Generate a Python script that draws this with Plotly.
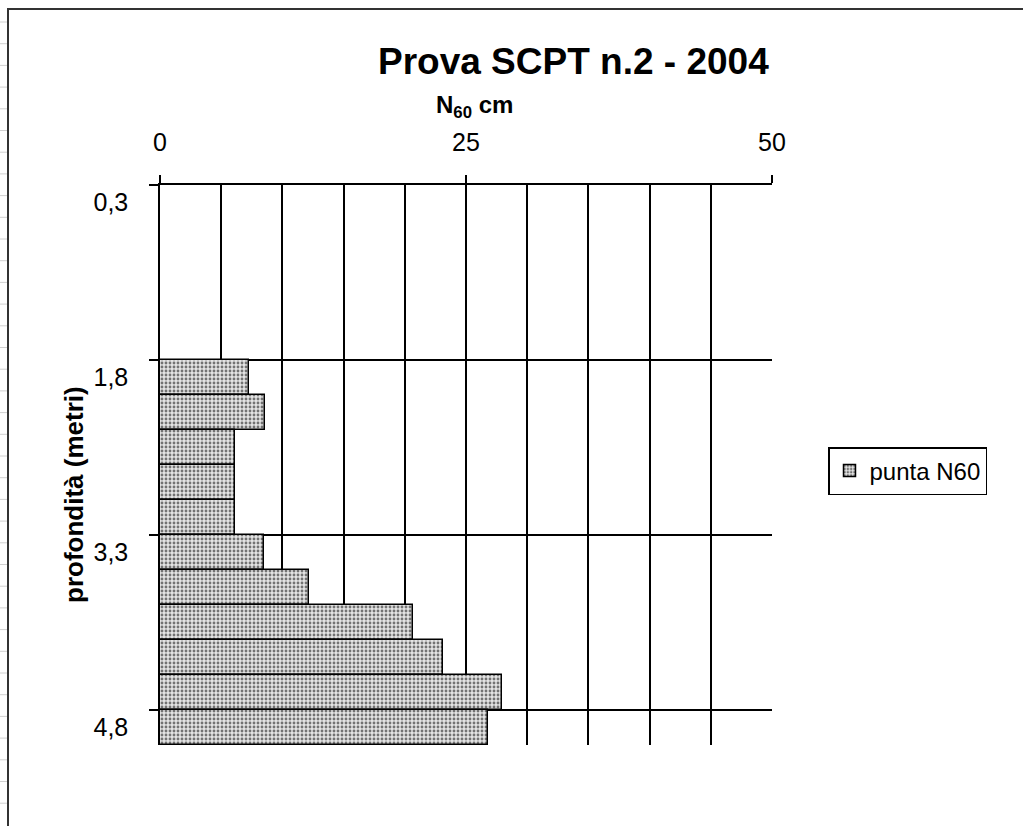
import plotly.graph_objects as go

# ---- data ----
depth_m = [0.3, 0.6, 0.9, 1.2, 1.5, 1.8, 2.1, 2.4, 2.7, 3.0, 3.3, 3.6, 3.9, 4.2, 4.5, 4.8]
n60 = [None, None, None, None, None, 7.3, 8.6, 6.1, 6.1, 6.1, 8.5, 12.2, 20.7, 23.1, 27.9, 26.8]
series_name = "punta N60"
title_text = "Prova SCPT n.2 - 2004"
x_title = "N<sub>60</sub> cm"
y_title = "profondità (metri)"
label_every = 5

W, H = 1023, 826
L, R, T, B = 160, 1023 - 772, 185, 826 - 745
pw, ph = W - L - R, H - T - B

def px(x):
    return (x - L) / pw

def py(y):
    return (H - B - y) / ph

FONT = "Liberation Sans, Arial, sans-serif"
step = depth_m[1] - depth_m[0]
lo, hi = depth_m[0] - step / 2, depth_m[-1] + step / 2
label_vals = depth_m[::label_every]
bound_vals = [v - step / 2 for v in label_vals]

fig = go.Figure()
fig.add_trace(go.Bar(
    x=n60, y=depth_m, orientation="h", width=step, name=series_name,
    marker=dict(color="white", line=dict(color="black", width=1.5),
                pattern=dict(shape=".", fgcolor="black", bgcolor="#e4e4e4",
                             size=4, solidity=0.4)),
    showlegend=True,
))
# helper trace for secondary y axis (gridlines/ticks at band boundaries)
fig.add_trace(go.Scatter(x=[0], y=[depth_m[0]], yaxis="y2", mode="markers",
                         marker=dict(opacity=0), showlegend=False, hoverinfo="skip"))

fig.update_layout(
    width=W, height=H,
    margin=dict(l=L, r=R, t=T, b=B, pad=0),
    paper_bgcolor="white", plot_bgcolor="white",
    separators=",.",
    font=dict(family=FONT, color="black", size=24),
    bargap=0,
    xaxis=dict(
        side="top", range=[0, 50], tickmode="linear", tick0=0, dtick=25,
        showgrid=True, gridcolor="black", gridwidth=1.5,
        minor=dict(dtick=5, showgrid=True, gridcolor="black", gridwidth=1.5, ticks=""),
        ticks="outside", ticklen=8, tickwidth=1.5, tickcolor="black",
        ticklabelstandoff=14,
        showline=True, linecolor="black", linewidth=1.5,
        zeroline=False, tickfont=dict(size=25),
    ),
    yaxis=dict(
        range=[hi, lo], tickmode="array", tickvals=label_vals, tickformat=".1f",
        showgrid=False, zeroline=False, ticks="", ticklabelstandoff=25,
        showline=True, linecolor="black", linewidth=1.5,
        tickfont=dict(size=25),
    ),
    yaxis2=dict(
        overlaying="y", side="left", range=[hi, lo], tickmode="array",
        tickvals=bound_vals, showticklabels=False, showgrid=True,
        gridcolor="black", gridwidth=1.5, ticks="outside", ticklen=10,
        tickwidth=1.5, tickcolor="black", zeroline=False, showline=False,
    ),
    legend=dict(
        x=px(828), y=py(447), xanchor="left", yanchor="top",
        bordercolor="black", borderwidth=1.5, bgcolor="white",
        font=dict(size=24), itemwidth=30, tracegroupgap=0,
    ),
    annotations=[
        dict(text="<b>" + title_text + "</b>", x=px(573), y=py(62), xref="paper", yref="paper",
             showarrow=False, font=dict(size=37), xanchor="center", yanchor="middle"),
        dict(text="<b>" + x_title + "</b>", x=px(474), y=py(106), xref="paper", yref="paper",
             showarrow=False, font=dict(size=24), xanchor="center", yanchor="middle"),
        dict(text="<b>" + y_title + "</b>", x=px(74), y=py(495), xref="paper", yref="paper",
             showarrow=False, font=dict(size=26), textangle=-90, xanchor="center", yanchor="middle"),
    ],
    shapes=[
        dict(type="rect", xref="paper", yref="paper", x0=px(8), y0=py(9), x1=px(1200), y1=py(1000),
             line=dict(color="#333333", width=2), fillcolor="rgba(0,0,0,0)", layer="below"),
    ] + [
        dict(type="line", xref="paper", yref="paper", x0=px(0), x1=px(7), y0=py(yy), y1=py(yy),
             line=dict(color="#d0d0d0", width=1))
        for yy in [22 + 21.7 * k for k in range(37)]
    ],
)

fig.write_html("out.html")
